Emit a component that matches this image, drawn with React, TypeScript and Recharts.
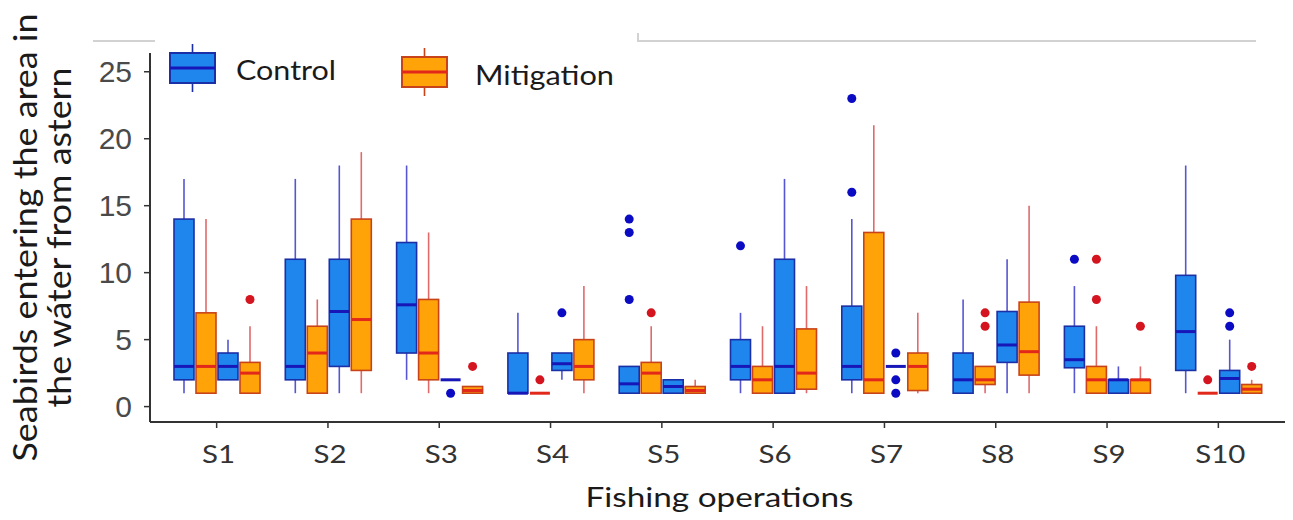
import React from 'react';
import { ComposedChart, Bar, XAxis, YAxis } from 'recharts';

// ---- data ----
const categories = ['S1', 'S2', 'S3', 'S4', 'S5', 'S6', 'S7', 'S8', 'S9', 'S10'];

// five-number summaries per category: [lower whisker, Q1, median, Q3, upper whisker]
const controlA: number[][] = [
  [1, 2, 3, 14, 17], [1, 2, 3, 11, 17], [2, 4, 7.6, 12.25, 18], [1, 1, 1, 4, 7], [1, 1, 1.7, 3, 3],
  [1, 2, 3, 5, 7], [1, 2, 3, 7.5, 14], [1, 1, 2, 4, 8], [1, 2.9, 3.5, 6, 9], [1, 2.7, 5.6, 9.8, 18],
];
const controlAOutliers: number[][] = [[], [], [], [], [8, 13, 14], [12], [16, 23], [], [11], []];

const mitigationA: number[][] = [
  [1, 1, 3, 7, 14], [1, 1, 4, 6, 8], [1, 2, 4, 8, 13], [1, 1, 1, 1, 1], [1, 1, 2.5, 3.3, 6],
  [1, 1, 2, 3, 6], [1, 1, 2, 13, 21], [1, 1.65, 2, 3, 3], [1, 1, 2, 3, 6], [1, 1, 1, 1, 1],
];
const mitigationAOutliers: number[][] = [[], [], [], [2], [7], [], [], [6, 7], [8, 11], [2]];

const controlB: number[][] = [
  [2, 2, 3, 4, 5], [1, 3, 7.1, 11, 18], [2, 2, 2, 2, 2], [2, 2.7, 3.2, 4, 4], [1, 1, 1.5, 2, 2],
  [1, 1, 3, 11, 17], [3, 3, 3, 3, 3], [1, 3.3, 4.6, 7.1, 11], [1, 1, 2, 2, 3], [1, 1, 2.1, 2.7, 5],
];
const controlBOutliers: number[][] = [[], [], [1], [7], [], [], [1, 2, 4], [], [], [6, 7]];

const mitigationB: number[][] = [
  [1, 1, 2.5, 3.3, 6], [1, 2.7, 6.5, 14, 19], [1, 1, 1.2, 1.5, 1.5], [1, 2, 3, 5, 9], [1, 1, 1.2, 1.5, 2],
  [1, 1.3, 2.5, 5.8, 9], [1, 1.2, 3, 4, 7], [1, 2.35, 4.1, 7.8, 15], [1, 1, 2, 2, 3], [1, 1, 1.3, 1.65, 2],
];
const mitigationBOutliers: number[][] = [[8], [], [3], [], [], [], [], [], [6], [3]];

const yTicks = [0, 5, 10, 15, 20, 25];
const legendLabels = ['Control', 'Mitigation'];
const xTitle = 'Fishing operations';
const yTitleLines = ['Seabirds entering the area in', 'the wáter from astern'];

// ---- build rows ----
type Stat = { box: number[]; out: number[] };
const rows = categories.map((cat, i) => ({
  cat,
  cA: { box: controlA[i], out: controlAOutliers[i] } as Stat,
  mA: { box: mitigationA[i], out: mitigationAOutliers[i] } as Stat,
  cB: { box: controlB[i], out: controlBOutliers[i] } as Stat,
  mB: { box: mitigationB[i], out: mitigationBOutliers[i] } as Stat,
}));

const hiOf = (s: Stat) => Math.max(s.box[4], ...s.out);

type Style = { fill: string; stroke: string; median: string; whisker: string; dot: string };
const CONTROL: Style = { fill: '#1f86ee', stroke: '#1b2fa6', median: '#1717b8', whisker: '#5656d2', dot: '#0b0bc4' };
const MITIG: Style = { fill: '#ffa308', stroke: '#c9431a', median: '#e2281a', whisker: '#e06a6a', dot: '#d4141e' };

const makeShape = (st: Style, key: 'cA' | 'mA' | 'cB' | 'mB') => (props: any) => {
  const { x, y, width, height, payload } = props;
  const s: Stat = payload[key];
  const hi = hiOf(s);
  const base = y + height;
  const k = height / hi;
  const py = (v: number) => base - v * k;
  const [mn, q1, md, q3, mx] = s.box;
  const cx = x + width / 2;
  return (
    <g>
      <line x1={cx} x2={cx} y1={py(mn)} y2={py(q1)} stroke={st.whisker} strokeWidth={1.6} />
      <line x1={cx} x2={cx} y1={py(q3)} y2={py(mx)} stroke={st.whisker} strokeWidth={1.6} />
      {q3 > q1 && (
        <rect x={x} y={py(q3)} width={width} height={py(q1) - py(q3)} fill={st.fill} stroke={st.stroke} strokeWidth={1.6} />
      )}
      <line x1={x} x2={x + width} y1={py(md)} y2={py(md)} stroke={st.median} strokeWidth={3} />
      {s.out.map((o, j) => (
        <circle key={j} cx={cx} cy={py(o)} r={4.5} fill={st.dot} />
      ))}
    </g>
  );
};

const XTick = (props: any) => {
  const { x, y, payload } = props;
  return (
    <text transform={`translate(${x + 2},${y + 20}) scale(1.18,1)`} textAnchor="middle"
      fontFamily="Lato" fontSize={25} fill="#333">
      {payload.value}
    </text>
  );
};

const XTitle = (props: any) => {
  const vb = props.viewBox || { x: 150, y: 422, width: 1135, height: 98 };
  return (
    <text x={vb.x + vb.width / 2 + 2} y={vb.y + 85} textAnchor="middle" textLength={268}
      lengthAdjust="spacingAndGlyphs" fontFamily="Lato" fontSize={26} fill="#1a1a1a">
      {xTitle}
    </text>
  );
};

const YTitle = (props: any) => {
  const vb = props.viewBox || { x: 0, y: 53, width: 150, height: 369 };
  const cy = vb.y + vb.height / 2;
  const xs = [24, 58];
  const lens = [448, 340];
  return (
    <g>
      {yTitleLines.map((t, i) => (
        <text key={i} x={xs[i]} y={cy} transform={`rotate(-90 ${xs[i]} ${cy})`} textAnchor="middle"
          dominantBaseline="central" textLength={lens[i]} lengthAdjust="spacingAndGlyphs"
          fontFamily="Lato" fontSize={33} fill="#1a1a1a">
          {t}
        </text>
      ))}
    </g>
  );
};

const LegendIcon = ({ x, y, st }: { x: number; y: number; st: Style }) => (
  <g>
    <line x1={x + 22.5} x2={x + 22.5} y1={y - 9} y2={y + 39} stroke={st.stroke} strokeWidth={1.6} />
    <rect x={x} y={y} width={45} height={30} fill={st.fill} stroke={st.stroke} strokeWidth={2} />
    <line x1={x} x2={x + 45} y1={y + 15} y2={y + 15} stroke={st.median} strokeWidth={3} />
  </g>
);

export default function App() {
  const W = 1293;
  const H = 520;
  return (
    <div style={{ position: 'absolute', left: 0, top: 0, width: W, height: H, background: '#fff', overflow: 'hidden' }}>
      <div style={{ position: 'absolute', left: 93, top: 40, width: 62, height: 2, background: '#d2d2d2' }} />
      <div style={{ position: 'absolute', left: 637, top: 40, width: 619, height: 2, background: '#d2d2d2' }} />
      <div style={{ position: 'absolute', left: 637, top: 33, width: 2, height: 8, background: '#d2d2d2' }} />
      <ComposedChart width={W} height={H} data={rows} margin={{ top: 53, right: 8, bottom: 0, left: 0 }}
        barSize={20} barGap={2}>
        <XAxis dataKey="cat" height={98} padding={{ left: 11, right: 11 }} tickSize={6} tickMargin={15}
          axisLine={{ stroke: '#333', strokeWidth: 2 }} tickLine={{ stroke: '#333', strokeWidth: 1.5 }}
          tick={<XTick />} interval={0} label={<XTitle />} />
        <YAxis type="number" width={150} domain={[-1.15, 26.4]} ticks={yTicks} allowDataOverflow
          tickSize={6} tickMargin={12} axisLine={{ stroke: '#333', strokeWidth: 2 }}
          tickLine={{ stroke: '#333', strokeWidth: 1.5 }}
          tick={{ fontFamily: 'Liberation Sans', fontSize: 30, fill: '#4a4a4a' }} label={<YTitle />} />
        <Bar dataKey={(r: any) => [0, hiOf(r.cA)]} shape={makeShape(CONTROL, 'cA')} isAnimationActive={false} />
        <Bar dataKey={(r: any) => [0, hiOf(r.mA)]} shape={makeShape(MITIG, 'mA')} isAnimationActive={false} />
        <Bar dataKey={(r: any) => [0, hiOf(r.cB)]} shape={makeShape(CONTROL, 'cB')} isAnimationActive={false} />
        <Bar dataKey={(r: any) => [0, hiOf(r.mB)]} shape={makeShape(MITIG, 'mB')} isAnimationActive={false} />
      </ComposedChart>
      <svg style={{ position: 'absolute', left: 0, top: 0, pointerEvents: 'none' }} width={W} height={120}>
        <LegendIcon x={170} y={53} st={CONTROL} />
        <text x={236} y={80} textLength={100} lengthAdjust="spacingAndGlyphs" fontFamily="Lato" fontSize={26} fill="#1a1a1a">{legendLabels[0]}</text>
        <LegendIcon x={402} y={57} st={MITIG} />
        <text x={475} y={85} textLength={139} lengthAdjust="spacingAndGlyphs" fontFamily="Lato" fontSize={26} fill="#1a1a1a">{legendLabels[1]}</text>
      </svg>
    </div>
  );
}
